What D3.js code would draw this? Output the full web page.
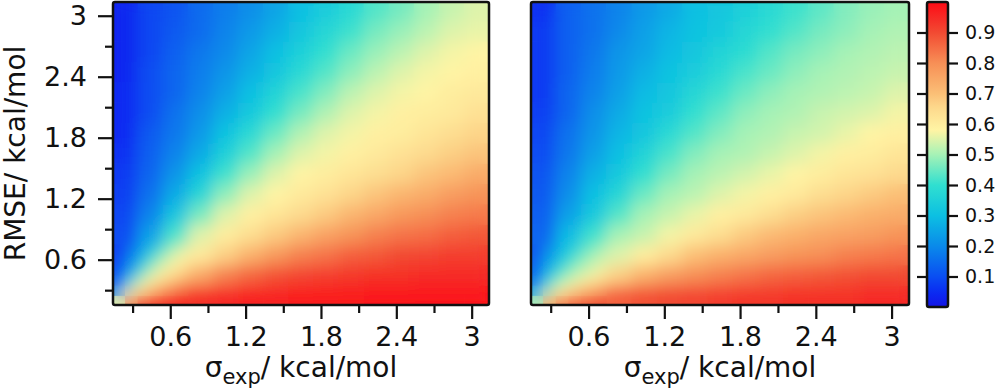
<!DOCTYPE html>
<html>
<head>
<meta charset="utf-8">
<script src="https://cdn.jsdelivr.net/npm/d3@7"></script>
<style>
  body { margin: 0; background: #fff; }
  text { font-family: "DejaVu Sans", sans-serif; fill: #111; }
</style>
</head>
<body>
<script>
// cell centres of the grid (sigma_exp along x, RMSE along y), kcal/mol
const sigmaCenters = [0.24, 0.44, 0.64, 0.84, 1.04, 1.24, 1.44, 1.64, 1.84, 2.04, 2.24, 2.44, 2.64, 2.84, 3.04];
const rmseCenters = [0.25, 0.45, 0.65, 0.85, 1.05, 1.25, 1.45, 1.65, 1.85, 2.05, 2.25, 2.45, 2.65, 2.85, 3.05];

// finer cells for the fan near the origin
const cornerSigma = [0.19, 0.29, 0.39, 0.49, 0.59, 0.69];
const cornerRmse = [0.20, 0.30, 0.40, 0.50, 0.60, 0.70];

// values, rows from bottom (low RMSE) to top
const leftValues = [
  [.55,.82,.91,.94,.95,.96,.96,.97,.97,.97,.98,.98,.98,.98,.98],
  [.19,.55,.65,.75,.82,.86,.89,.91,.92,.93,.94,.94,.95,.95,.95],
  [.13,.35,.55,.61,.67,.73,.78,.82,.84,.87,.88,.90,.91,.92,.92],
  [.10,.24,.42,.55,.60,.64,.68,.72,.76,.79,.82,.84,.85,.87,.88],
  [.09,.19,.32,.46,.55,.59,.62,.65,.68,.72,.75,.78,.80,.82,.83],
  [.08,.16,.26,.37,.48,.55,.58,.61,.63,.66,.69,.72,.74,.77,.79],
  [.07,.14,.22,.31,.41,.49,.55,.58,.60,.62,.64,.66,.69,.71,.74],
  [.06,.13,.19,.26,.35,.43,.50,.55,.57,.59,.61,.63,.65,.67,.69],
  [.05,.12,.17,.23,.31,.38,.45,.51,.55,.57,.59,.60,.62,.64,.66],
  [.05,.10,.16,.21,.27,.33,.40,.46,.51,.55,.57,.59,.60,.61,.63],
  [.05,.10,.14,.19,.24,.30,.36,.42,.47,.52,.55,.57,.58,.60,.61],
  [.04,.10,.14,.18,.22,.27,.32,.38,.43,.48,.52,.55,.57,.58,.59],
  [.04,.09,.13,.17,.20,.25,.30,.35,.40,.45,.49,.52,.55,.57,.58],
  [.04,.09,.12,.15,.19,.23,.27,.32,.37,.41,.46,.49,.52,.55,.56],
  [.04,.09,.11,.15,.18,.21,.25,.30,.34,.38,.43,.46,.50,.53,.55]
];
const leftCorner = [
  [.55,.82,.91,.94,.95,.96],
  [.19,.55,.65,.75,.82,.86],
  [.13,.35,.55,.61,.67,.73],
  [.10,.24,.42,.55,.60,.64],
  [.09,.19,.32,.46,.55,.59],
  [.08,.16,.26,.37,.48,.55]
];

// values
const rightValues = [
  [.50,.74,.83,.87,.89,.90,.91,.92,.93,.93,.94,.94,.94,.95,.95],
  [.24,.50,.59,.67,.73,.77,.80,.82,.84,.86,.87,.88,.89,.90,.90],
  [.17,.36,.50,.55,.60,.65,.70,.73,.75,.77,.79,.80,.82,.83,.84],
  [.14,.29,.41,.50,.53,.57,.61,.64,.68,.71,.73,.75,.76,.77,.79],
  [.13,.24,.33,.43,.50,.53,.56,.59,.61,.64,.67,.69,.71,.73,.74],
  [.12,.21,.30,.37,.45,.50,.52,.55,.57,.59,.61,.64,.66,.68,.70],
  [.11,.19,.27,.33,.40,.46,.50,.52,.54,.56,.58,.60,.62,.63,.65],
  [.10,.17,.24,.30,.36,.42,.47,.50,.51,.53,.55,.57,.59,.60,.62],
  [.09,.16,.22,.28,.32,.38,.43,.47,.50,.51,.53,.54,.56,.58,.59],
  [.08,.14,.21,.26,.31,.34,.40,.44,.48,.50,.51,.53,.54,.55,.57],
  [.07,.14,.19,.24,.29,.32,.37,.41,.45,.48,.50,.51,.52,.53,.55],
  [.07,.13,.18,.23,.27,.31,.34,.38,.42,.45,.48,.50,.51,.52,.53],
  [.07,.13,.17,.22,.25,.29,.32,.36,.39,.43,.46,.48,.50,.51,.52],
  [.07,.13,.16,.20,.24,.28,.31,.33,.37,.40,.43,.46,.48,.50,.51],
  [.06,.13,.16,.19,.23,.26,.30,.32,.35,.38,.41,.44,.47,.49,.50]
];
const rightCorner = [
  [.50,.74,.83,.87,.89,.90],
  [.24,.50,.59,.67,.73,.77],
  [.17,.36,.50,.55,.60,.65],
  [.14,.29,.41,.50,.53,.57],
  [.13,.24,.33,.43,.50,.53],
  [.12,.21,.30,.37,.45,.50]
];

const majorTicks = [0.6, 1.2, 1.8, 2.4, 3];
const minorTicks = [0.3, 0.9, 1.5, 2.1, 2.7];
const colorbarTicks = [0.1, 0.2, 0.3, 0.4, 0.5, 0.6, 0.7, 0.8, 0.9];

// colour map stops (jet-like with pale middle)
const cmapStops = [0, 0.05, 0.1, 0.2, 0.3, 0.4, 0.5, 0.58, 0.65, 0.7, 0.8, 0.9, 0.95, 1];
const cmapColors = ["#1414e6", "#0a2cf2", "#0a4ef2", "#0a8aea", "#0cc0e2", "#30dfd0", "#a6f2b6",
                    "#fff4a4", "#fdda8e", "#fbbf76", "#f78f56", "#f24a32", "#f62a26", "#ff0a14"];

const color = d3.scaleLinear().domain(cmapStops).range(cmapColors).interpolate(d3.interpolateRgb).clamp(true);

const width = 1000, height = 392;
const plotTop = 2, plotBottom = 305;

const svg = d3.select("body").append("svg")
    .attr("width", width)
    .attr("height", height);

const defs = svg.append("defs");

function toCells(xs, ys, values, size) {
    let cells = [];
    values.forEach(function (row, j) {
        row.forEach(function (v, i) {
            cells.push({s: xs[i], r: ys[j], v: v, h: size / 2});
        });
    });
    return cells;
}

function drawPanel(name, left, right, values, corner, showY) {
    let x = d3.scaleLinear().domain([0.144, 3.138]).range([left, right]);
    let y = d3.scaleLinear().domain([0.154, 3.135]).range([plotBottom, plotTop]);

    defs.append("clipPath")
        .attr("id", "clip-" + name)
        .append("rect")
        .attr("x", left).attr("y", plotTop)
        .attr("width", right - left).attr("height", plotBottom - plotTop);

    // blur limited to the plot box, edges repeated so the border stays opaque
    defs.append("filter")
        .attr("id", "smooth-" + name)
        .attr("filterUnits", "userSpaceOnUse")
        .attr("x", left).attr("y", plotTop)
        .attr("width", right - left).attr("height", plotBottom - plotTop)
        .append("feGaussianBlur")
        .attr("edgeMode", "duplicate")
        .attr("stdDeviation", 8);

    let cells = toCells(sigmaCenters, rmseCenters, values, 0.2)
        .concat(toCells(cornerSigma, cornerRmse, corner, 0.1));

    let g = svg.append("g").attr("clip-path", "url(#clip-" + name + ")");

    // base layer plus a blurred copy on top to smooth the grid
    [null, "url(#smooth-" + name + ")"].forEach(function (f) {
        let layer = g.append("g");
        if (f) layer.attr("filter", f);
        layer.selectAll("rect")
            .data(cells)
            .enter()
            .append("rect")
            .attr("x", d => x(d.s - d.h))
            .attr("y", d => y(d.r + d.h))
            .attr("width", d => x(d.s + d.h) - x(d.s - d.h) + 0.6)
            .attr("height", d => y(d.r - d.h) - y(d.r + d.h) + 0.6)
            .attr("fill", d => color(d.v));
    });

    // x axis
    let xMajor = svg.append("g")
        .attr("transform", "translate(0," + plotBottom + ")")
        .call(d3.axisBottom(x).tickValues(majorTicks).tickSize(14).tickPadding(8)
            .tickFormat(d3.format("~g")));
    let xMinor = svg.append("g")
        .attr("transform", "translate(0," + plotBottom + ")")
        .call(d3.axisBottom(x).tickValues(minorTicks).tickSize(8).tickFormat(""));
    [xMajor, xMinor].forEach(function (a) {
        a.select(".domain").remove();
        a.selectAll("line").attr("stroke", "#111").attr("stroke-width", 2.2);
    });
    xMajor.selectAll("text").attr("font-size", 27).attr("font-family", "DejaVu Sans").attr("fill", "#111");

    if (showY) {
        let yMajor = svg.append("g")
            .attr("transform", "translate(" + left + ",0)")
            .call(d3.axisLeft(y).tickValues(majorTicks).tickSize(15).tickPadding(11)
                .tickFormat(d3.format("~g")));
        let yMinor = svg.append("g")
            .attr("transform", "translate(" + left + ",0)")
            .call(d3.axisLeft(y).tickValues(minorTicks).tickSize(8).tickFormat(""));
        [yMajor, yMinor].forEach(function (a) {
            a.select(".domain").remove();
            a.selectAll("line").attr("stroke", "#111").attr("stroke-width", 2.2);
        });
        yMajor.selectAll("text").attr("font-size", 27).attr("font-family", "DejaVu Sans").attr("fill", "#111");

        svg.append("text")
            .attr("transform", "rotate(-90)")
            .attr("x", -(plotTop + plotBottom) / 2)
            .attr("y", 25)
            .attr("text-anchor", "middle")
            .attr("font-size", 28)
            .text("RMSE/ kcal/mol");
    }

    // x label with subscript
    let xl = svg.append("text")
        .attr("x", (left + right) / 2)
        .attr("y", 377)
        .attr("text-anchor", "middle")
        .attr("font-size", 28);
    xl.append("tspan").text("σ");
    xl.append("tspan").attr("font-size", 21).attr("dy", 7).text("exp");
    xl.append("tspan").attr("dy", -7).text("/ kcal/mol");

    // frame
    svg.append("rect")
        .attr("x", left).attr("y", plotTop)
        .attr("width", right - left).attr("height", plotBottom - plotTop)
        .attr("rx", 2)
        .attr("fill", "none")
        .attr("stroke", "#111")
        .attr("stroke-width", 2.5);
}

drawPanel("left", 113, 489, leftValues, leftCorner, true);
drawPanel("right", 531, 909, rightValues, rightCorner, false);

// colour bar
const cbLeft = 927, cbRight = 948, cbTop = 2, cbBottom = 307;
const cbScale = d3.scaleLinear().domain([0, 1]).range([cbBottom, cbTop]);

const grad = defs.append("linearGradient")
    .attr("id", "cbar")
    .attr("x1", 0).attr("y1", 1).attr("x2", 0).attr("y2", 0);
grad.selectAll("stop")
    .data(d3.range(0, 1.0001, 0.02))
    .enter()
    .append("stop")
    .attr("offset", d => d)
    .attr("stop-color", d => color(d));

svg.append("rect")
    .attr("x", cbLeft).attr("y", cbTop)
    .attr("width", cbRight - cbLeft).attr("height", cbBottom - cbTop)
    .attr("rx", 2)
    .attr("fill", "url(#cbar)")
    .attr("stroke", "#111")
    .attr("stroke-width", 2.5);

let cbRightAxis = svg.append("g")
    .attr("transform", "translate(" + cbRight + ",0)")
    .call(d3.axisRight(cbScale).tickValues(colorbarTicks).tickSize(10).tickPadding(7)
        .tickFormat(d3.format(".1f")));
let cbLeftAxis = svg.append("g")
    .attr("transform", "translate(" + cbLeft + ",0)")
    .call(d3.axisLeft(cbScale).tickValues(colorbarTicks).tickSize(10).tickFormat(""));
[cbRightAxis, cbLeftAxis].forEach(function (a) {
    a.select(".domain").remove();
    a.selectAll("line").attr("stroke", "#111").attr("stroke-width", 2.2);
});
cbRightAxis.selectAll("text").attr("font-size", 19).attr("font-family", "DejaVu Sans").attr("fill", "#111");
</script>
</body>
</html>
